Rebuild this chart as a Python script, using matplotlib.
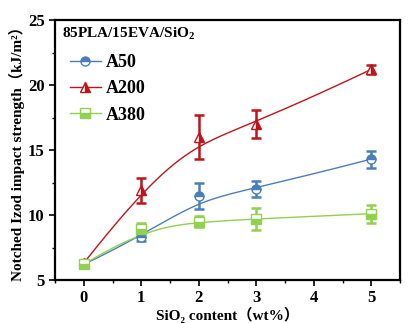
import numpy as np
import matplotlib
matplotlib.use("Agg")
import matplotlib.pyplot as plt
from matplotlib.ticker import MultipleLocator

plt.rcParams['font.family'] = ['Liberation Serif', 'DejaVu Serif', 'Noto Sans CJK SC']
plt.rcParams['font.weight'] = 'bold'
plt.rcParams['mathtext.fontset'] = 'custom'
plt.rcParams['mathtext.rm'] = 'Liberation Serif:bold'
plt.rcParams['mathtext.it'] = 'Liberation Serif:bold'
plt.rcParams['mathtext.bf'] = 'Liberation Serif:bold'

x = [0, 1, 2, 3, 5]
a50 = [6.2, 8.3, 11.5, 12.0, 14.3]
a50_err = [0.15, 0.3, 1.0, 0.65, 0.65]
a200 = [6.3, 11.9, 16.0, 17.0, 21.2]
a200_err = [0.2, 0.95, 1.7, 1.1, 0.35]
a380 = [6.2, 8.9, 9.5, 9.7, 10.1]
a380_err = [0.15, 0.5, 0.4, 0.85, 0.7]
labels = ['A50', 'A200', 'A380']
colors = ['#4a7ebb', '#c0141c', '#92d050']
markers = ['o', '^', 's']
fills = ['top', 'right', 'bottom']


def bspline(px, py, n=200):
    # clamped cubic B-spline using data points as control points
    px = np.asarray(px, float); py = np.asarray(py, float)
    m = len(px); k = 3
    inner = np.arange(1, m - k)
    knots = np.concatenate([np.zeros(k + 1), inner, np.full(k + 1, m - k)]).astype(float)
    ts = np.linspace(0, m - k, n)

    def basis(i, kk, t):
        if kk == 0:
            if knots[i] <= t < knots[i + 1] or (t == knots[-1] and knots[i] < knots[i + 1] == knots[-1]):
                return 1.0
            return 0.0
        a = 0.0
        d1 = knots[i + kk] - knots[i]
        if d1 > 0:
            a += (t - knots[i]) / d1 * basis(i, kk - 1, t)
        d2 = knots[i + kk + 1] - knots[i + 1]
        if d2 > 0:
            a += (knots[i + kk + 1] - t) / d2 * basis(i + 1, kk - 1, t)
        return a

    cx, cy = [], []
    for t in ts:
        b = np.array([basis(i, k, t) for i in range(m)])
        cx.append(b @ px); cy.append(b @ py)
    return np.array(cx), np.array(cy)


fig = plt.figure(figsize=(4.19, 3.23), dpi=100)
ax = fig.add_axes([55 / 419, 1 - 280 / 323, 345 / 419, 260 / 323])

handles = []
for ys, es, lab, c, mk, fs in zip([a50, a200, a380], [a50_err, a200_err, a380_err],
                                  labels, colors, markers, fills):
    cx, cy = bspline(x, ys)
    ax.plot(cx, cy, color=c, lw=1.0, zorder=2)
    ax.errorbar(x, ys, yerr=es, fmt='none', ecolor=c, elinewidth=1.8, capsize=3.5, capthick=1.8, zorder=3)
    ax.plot(x, ys, ls='none', marker=mk, ms=6.5, color=c, mfc=c, mec=c, mew=1.0,
            fillstyle=fs, markerfacecoloralt='white', zorder=4)
    h, = ax.plot([], [], color=c, lw=1.0, marker=mk, ms=6.5, mec=c, mfc=c, mew=1.0,
                 fillstyle=fs, markerfacecoloralt='white')
    handles.append(h)

ax.set_xlim(-0.5, 5.5)
ax.set_ylim(5, 25)
ax.xaxis.set_major_locator(MultipleLocator(1))
ax.xaxis.set_minor_locator(MultipleLocator(0.5))
ax.yaxis.set_major_locator(MultipleLocator(5))
ax.yaxis.set_minor_locator(MultipleLocator(2.5))
ax.tick_params(which='major', direction='out', length=4, width=1.2, labelsize=12)
ax.tick_params(which='minor', direction='out', length=2, width=1.0)
for s in ax.spines.values():
    s.set_linewidth(1.6)
for lbl in ax.get_xticklabels() + ax.get_yticklabels():
    lbl.set_fontweight('bold')

ax.set_xlabel('SiO\u2082 content（wt%）', fontsize=11, fontweight='bold', labelpad=0)
ax.set_ylabel('Notched Izod impact strength（kJ/m\u00b2）', fontsize=11, fontweight='bold', labelpad=2)

ax.text(0.02, 0.945, '85PLA/15EVA/SiO$_2$', transform=ax.transAxes, fontsize=11,
        fontweight='bold', va='center', ha='left')
leg = ax.legend(handles, labels, loc='upper left', bbox_to_anchor=(-0.005, 0.93), frameon=False,
                handlelength=1.75, handletextpad=0.25, labelspacing=0.5,
                prop={'weight': 'bold', 'size': 13})

fig.savefig('out.png', dpi=100)
